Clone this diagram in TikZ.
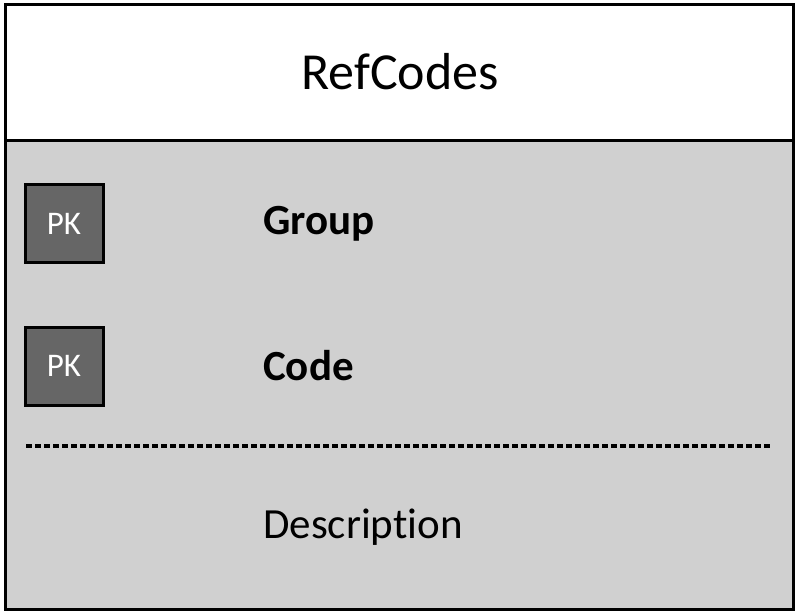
\documentclass[tikz,border=0pt]{standalone}
\usepackage{fontspec}
\setmainfont{Carlito}[RawFeature={-liga;-dlig;-calt}]
\definecolor{bodygray}{HTML}{D0D0D0}
\definecolor{pkgray}{HTML}{666666}
\tikzset{
  pkbox/.style={draw=black, line width=3pt, fill=pkgray, minimum width=78pt, minimum height=78pt, inner sep=0pt, text=white, font=\fontsize{33}{40}\selectfont},
  fieldlbl/.style={anchor=west, inner sep=0pt, font=\fontsize{43}{50}\selectfont},
}
\begin{document}
\begin{tikzpicture}[x=1pt,y=-1pt]
\useasboundingbox (0,0) rectangle (800,612);
\fill[bodygray] (5,141) rectangle (793,609);
\draw[line width=3pt] (5,141) -- (793,141);
\draw[line width=3pt] (5,5) rectangle (793,609);
\node[inner sep=0pt, font=\fontsize{52}{60}\selectfont] (title) at (400,72) {RefCodes};
\node[pkbox] (pk1) at (64,224) {PK};
\node[pkbox] (pk2) at (64,366) {PK};
\node[fieldlbl, font=\fontsize{43}{50}\selectfont\bfseries] (group) at (263,224) {Group};
\node[fieldlbl, font=\fontsize{43}{50}\selectfont\bfseries] (code) at (263,366) {Code};
\coordinate (dl) at (26,446);
\coordinate (dr) at (771,446);
\draw[line width=3.5pt, dash pattern=on 6pt off 3pt] (dl) -- (dr);
\node[fieldlbl] (desc) at (263,527) {Descrip\hbox{}tion};
\end{tikzpicture}
\end{document}
